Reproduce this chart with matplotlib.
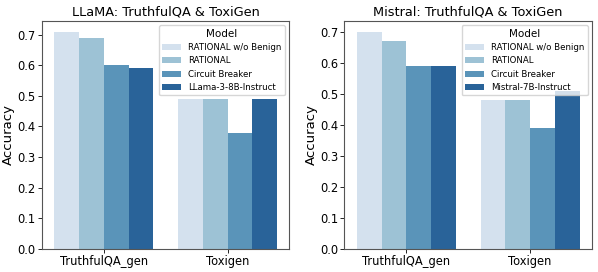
import numpy as np
import pandas as pd
import matplotlib
matplotlib.use("Agg")
import matplotlib.pyplot as plt
import seaborn as sns

# Data
datasets = ["TruthfulQA_gen", "Toxigen"]
llama_models = ["RATIONAL w/o Benign", "RATIONAL", "Circuit Breaker", "LLama-3-8B-Instruct"]
llama_acc = {
    "RATIONAL w/o Benign": [0.71, 0.49],
    "RATIONAL": [0.69, 0.49],
    "Circuit Breaker": [0.60, 0.38],
    "LLama-3-8B-Instruct": [0.59, 0.49],
}
mistral_models = ["RATIONAL w/o Benign", "RATIONAL", "Circuit Breaker", "Mistral-7B-Instruct"]
mistral_acc = {
    "RATIONAL w/o Benign": [0.70, 0.48],
    "RATIONAL": [0.67, 0.48],
    "Circuit Breaker": [0.59, 0.39],
    "Mistral-7B-Instruct": [0.59, 0.51],
}


def to_frame(models, acc):
    rows = []
    for m in models:
        for d, v in zip(datasets, acc[m]):
            rows.append({"Dataset": d, "Model": m, "Accuracy": v})
    return pd.DataFrame(rows)


fig, axes = plt.subplots(1, 2, figsize=(5.98, 2.72), dpi=100)

panels = [
    (axes[0], to_frame(llama_models, llama_acc), "LLaMA: TruthfulQA & ToxiGen"),
    (axes[1], to_frame(mistral_models, mistral_acc), "Mistral: TruthfulQA & ToxiGen"),
]

for ax, df, title in panels:
    sns.barplot(data=df, x="Dataset", y="Accuracy", hue="Model",
                palette="Blues", ax=ax)
    ax.set_title(title, fontsize=9.3, pad=4)
    ax.set_xlabel("")
    ax.set_ylabel("Accuracy", fontsize=9.5, labelpad=1.5)
    ax.tick_params(labelsize=8.3, length=3, width=0.6, pad=1.5)
    for s in ax.spines.values():
        s.set_color("#555555")
        s.set_linewidth(0.8)
    leg = ax.legend(title="Model", loc="upper right", fontsize=6.2,
                    title_fontsize=7.5, handlelength=2.2, labelspacing=0.5,
                    borderpad=0.4, handletextpad=0.8, framealpha=0.8)

fig.subplots_adjust(left=0.07, right=0.99, top=0.923, bottom=0.086, wspace=0.222)
fig.savefig("out.png", dpi=100)
